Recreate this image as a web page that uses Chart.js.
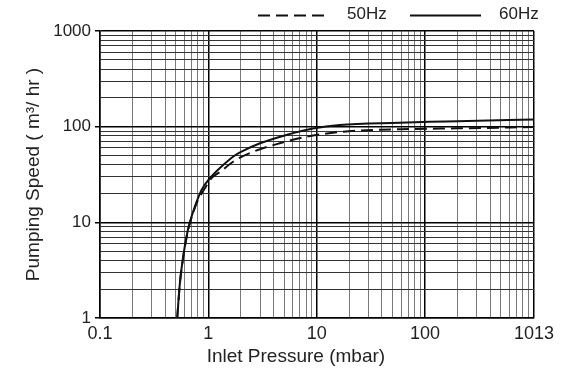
<!DOCTYPE html>
<html>
<head>
<meta charset="utf-8">
<script src="https://cdn.jsdelivr.net/npm/chart.js@4.4.1/dist/chart.umd.min.js"></script>
<style>
  html, body { margin: 0; padding: 0; background: #fff; }
  #wrap { width: 581px; height: 372px; }
</style>
</head>
<body>
<div id="wrap"><canvas id="chart" width="581" height="372"></canvas></div>
<script>
// values
const pressure50 = [0.516, 0.546, 0.586, 0.638, 0.675, 0.778, 0.929, 1.07, 1.3, 1.69, 2.59, 4.56, 8.04, 14.1, 25, 60, 200, 1013];
const speed50    = [1, 2.3, 4.3, 7.5, 9.7, 15.8, 22.7, 29, 34, 43, 54.7, 67, 78.4, 86.4, 91, 94, 96, 99];
const pressure60 = [0.516, 0.546, 0.586, 0.638, 0.675, 0.751, 0.865, 1.03, 1.37, 1.69, 2.02, 3, 5.25, 9.25, 16.3, 58, 110, 200, 1013];
const speed60    = [1, 2.3, 4.4, 7.7, 10, 14.6, 21.8, 28.8, 39.7, 48.5, 54.7, 67, 82, 95.6, 104, 110, 112.5, 114, 119];

const seriesNames = ['50Hz', '60Hz'];
const xTickLabels = [0.1, 1, 10, 100, 1013];
const yTickLabels = [1, 10, 100, 1000];

const FONT = "'Liberation Sans', Arial, sans-serif";

// grid lines at 1..9 x each decade, plus the end value
function logGrid(min, max) {
    const out = [];
    for (let k = Math.floor(Math.log10(min)); Math.pow(10, k) <= max; k++) {
        for (let m = 1; m <= 9; m++) {
            const v = Number((m * Math.pow(10, k)).toPrecision(3));
            if (v >= min && v <= max) out.push(v);
        }
    }
    if (out[out.length - 1] !== max) out.push(max);
    return out;
}
const xGrid = logGrid(0.1, 1013);
const yGrid = logGrid(1, 1000);

const toPoints = (xs, ys) => xs.map((x, i) => ({ x: x, y: ys[i] }));

// simple line-style legend in the top right corner
const lineLegend = {
    id: 'lineLegend',
    afterDraw(chart) {
        const ctx = chart.ctx;
        const starts = [258, 410];
        ctx.save();
        chart.data.datasets.forEach((ds, i) => {
            const x0 = starts[i];
            ctx.beginPath();
            ctx.setLineDash(ds.borderDash || []);
            ctx.lineWidth = 2;
            ctx.strokeStyle = '#111';
            ctx.moveTo(x0, 15.5);
            ctx.lineTo(x0 + 71, 15.5);
            ctx.stroke();
            ctx.setLineDash([]);
            ctx.fillStyle = '#222';
            ctx.font = '17px ' + FONT;
            ctx.textBaseline = 'middle';
            ctx.textAlign = 'left';
            ctx.fillText(ds.label, x0 + 89, 14);
        });
        ctx.restore();
    }
};

new Chart(document.getElementById('chart').getContext('2d'), {
    type: 'line',
    data: {
        datasets: [{
            label: seriesNames[0],
            data: toPoints(pressure50, speed50),
            borderColor: '#111',
            borderWidth: 2,
            borderDash: [12, 6],
            pointRadius: 0,
            cubicInterpolationMode: 'monotone',
            fill: false
        }, {
            label: seriesNames[1],
            data: toPoints(pressure60, speed60),
            borderColor: '#111',
            borderWidth: 2,
            pointRadius: 0,
            cubicInterpolationMode: 'monotone',
            fill: false
        }]
    },
    options: {
        responsive: false,
        animation: false,
        layout: { padding: { top: 31, right: 47, bottom: 0, left: 0 } },
        plugins: {
            legend: { display: false },
            tooltip: { enabled: false }
        },
        scales: {
            x: {
                type: 'logarithmic',
                min: 0.1,
                max: 1013,
                afterBuildTicks: axis => { axis.ticks = xGrid.map(v => ({ value: v })); },
                afterFit: axis => { axis.height = 54; },
                grid: {
                    drawTicks: false,
                    color: c => (xTickLabels.includes(c.tick.value) ? '#000' : '#7a7a7a'),
                    lineWidth: c => (xTickLabels.includes(c.tick.value) ? 1.5 : 1)
                },
                border: { color: '#000', width: 1.5 },
                ticks: {
                    autoSkip: false,
                    maxRotation: 0,
                    padding: 5,
                    color: '#222',
                    font: { family: FONT, size: 18 },
                    callback: v => (xTickLabels.includes(v) ? String(v) : '')
                },
                title: {
                    display: true,
                    text: 'Inlet Pressure (mbar)        ',
                    color: '#222',
                    font: { family: FONT, size: 19 },
                    padding: { top: 0, bottom: 4 }
                }
            },
            y: {
                type: 'logarithmic',
                min: 1,
                max: 1000,
                afterBuildTicks: axis => { axis.ticks = yGrid.map(v => ({ value: v })); },
                afterFit: axis => { axis.width = 100; },
                grid: {
                    tickLength: 5,
                    tickColor: c => (yTickLabels.includes(c.tick.value) ? '#000' : 'rgba(0,0,0,0)'),
                    color: c => (yTickLabels.includes(c.tick.value) ? '#000' : '#333'),
                    lineWidth: c => (yTickLabels.includes(c.tick.value) ? 1.5 : 1)
                },
                border: { color: '#000', width: 1.5 },
                ticks: {
                    autoSkip: false,
                    padding: 4,
                    color: '#222',
                    font: { family: FONT, size: 17 },
                    callback: v => (yTickLabels.includes(v) ? String(v) : '')
                },
                title: {
                    display: true,
                    text: 'Pumping Speed ( m³/ hr )',
                    color: '#222',
                    font: { family: FONT, size: 19 },
                    padding: { top: 22, bottom: 0 }
                }
            }
        }
    },
    plugins: [lineLegend]
});
</script>
</body>
</html>
